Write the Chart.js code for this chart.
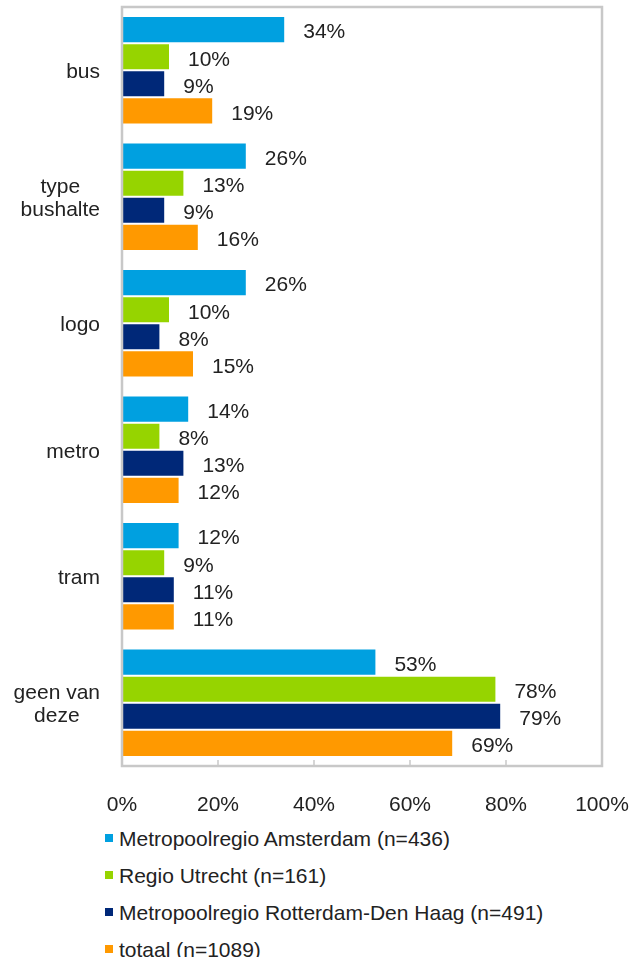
<!DOCTYPE html>
<html>
<head>
<meta charset="utf-8">
<script src="https://cdn.jsdelivr.net/npm/chart.js@4/dist/chart.umd.min.js"></script>
<style>
  body { margin: 0; background: #fff; }
  #wrap { position: relative; width: 632px; height: 957px; }
  #box { position: absolute; left: 0; top: 0; width: 632px; height: 820px; }
  #legend { position: absolute; left: 105px; top: 820px; font: 21px "Liberation Sans", Arial, sans-serif; color: #222; }
  #legend div { line-height: 37px; height: 37px; white-space: nowrap; }
  #legend span.sw { display: inline-block; width: 8px; height: 8px; margin-right: 6px; vertical-align: middle; position: relative; top: -2px; }
</style>
</head>
<body>
<div id="wrap">
  <div id="box"><canvas id="chart"></canvas></div>
  <div id="legend"></div>
</div>
<script>
(() => {
  // categorieën (meerdere regels per label)
  const categories = [['bus'], ['type', 'bushalte'], ['logo'], ['metro'], ['tram'], ['geen van', 'deze']];

  const seriesNames = [
    'Metropoolregio Amsterdam (n=436)',
    'Regio Utrecht (n=161)',
    'Metropoolregio Rotterdam-Den Haag (n=491)',
    'totaal (n=1089)'
  ];

  const amsterdam = [34, 26, 26, 14, 12, 53];
  const utrecht = [10, 13, 10, 8, 9, 78];
  const rotterdam = [9, 9, 8, 13, 11, 79];
  const totaal = [19, 16, 15, 12, 11, 69];

  const xTicks = [0, 20, 40, 60, 80, 100];

  const colors = ['#00a0e0', '#96d400', '#002878', '#ff9900'];
  const fontFam = '"Liberation Sans", Arial, sans-serif';
  const fontSize = 21;
  const textColor = '#222';

  const seriesValues = [amsterdam, utrecht, rotterdam, totaal];

  const datasets = seriesNames.map((name, i) => ({
    label: name,
    data: seriesValues[i],
    backgroundColor: colors[i],
    borderColor: 'rgba(255,255,255,0.5)',
    borderWidth: 1,
    borderSkipped: 'start',
    categoryPercentage: 0.856,
    barPercentage: 1
  }));

  // rand rond het plotgebied + kleine streepjes onderaan
  const plotBorder = {
    id: 'plotBorder',
    afterDatasetsDraw(chart) {
      const { ctx, chartArea: a, scales } = chart;
      ctx.save();
      ctx.strokeStyle = '#c8c8c8';
      ctx.lineWidth = 2.5;
      ctx.strokeRect(a.left, a.top, a.right - a.left, a.bottom - a.top);
      ctx.lineWidth = 1.5;
      scales.x.ticks.forEach(t => {
        const x = scales.x.getPixelForValue(t.value);
        if (x <= a.left + 1 || x >= a.right - 1) return;
        ctx.beginPath();
        ctx.moveTo(x, a.bottom);
        ctx.lineTo(x, a.bottom - 6);
        ctx.stroke();
      });
      ctx.restore();
    }
  };

  // waardelabels rechts van de balken
  const valueLabels = {
    id: 'valueLabels',
    afterDatasetsDraw(chart) {
      const { ctx } = chart;
      ctx.save();
      ctx.font = fontSize + 'px ' + fontFam;
      ctx.fillStyle = textColor;
      ctx.textAlign = 'left';
      ctx.textBaseline = 'middle';
      chart.data.datasets.forEach((ds, di) => {
        chart.getDatasetMeta(di).data.forEach((bar, i) => {
          ctx.fillText(ds.data[i] + '%', bar.x + 18, bar.y + 3);
        });
      });
      ctx.restore();
    }
  };

  // categorielabels: blok rechts uitgelijnd, regels onderling gecentreerd
  const catLabels = {
    id: 'catLabels',
    afterDraw(chart) {
      const { ctx, scales } = chart;
      const right = 100, lh = 23;
      ctx.save();
      ctx.font = fontSize + 'px ' + fontFam;
      ctx.fillStyle = textColor;
      ctx.textAlign = 'center';
      ctx.textBaseline = 'middle';
      chart.data.labels.forEach((lines, i) => {
        const y = scales.y.getPixelForValue(i);
        const w = Math.max(...lines.map(l => ctx.measureText(l).width));
        const cx = right - w / 2;
        const y0 = y - (lines.length - 1) * lh / 2 + 2;
        lines.forEach((l, k) => ctx.fillText(l, cx, y0 + k * lh));
      });
      ctx.restore();
    }
  };

  const ctx = document.getElementById('chart').getContext('2d');
  const chart = new Chart(ctx, {
    type: 'bar',
    data: { labels: categories, datasets: datasets },
    options: {
      indexAxis: 'y',
      responsive: true,
      maintainAspectRatio: false,
      animation: false,
      layout: { padding: { top: 7, right: 30, left: 0, bottom: 0 } },
      scales: {
        x: {
          min: 0,
          max: 100,
          afterBuildTicks: scale => { scale.ticks = xTicks.map(v => ({ value: v })); },
          afterFit: scale => {
            scale.height = 54;
            scale.paddingLeft = 0;
            scale.paddingRight = 0;
          },
          grid: { display: false },
          border: { display: false },
          ticks: {
            padding: 19,
            color: textColor,
            font: { family: fontFam, size: fontSize },
            callback: v => v + '%'
          }
        },
        y: {
          afterFit: scale => { scale.width = 122; },
          grid: { display: false },
          border: { display: false },
          ticks: { display: false }
        }
      },
      plugins: {
        legend: { display: false },
        tooltip: { enabled: false }
      }
    },
    plugins: [plotBorder, valueLabels, catLabels]
  });

  // legenda als lijst onder de grafiek
  const legend = document.getElementById('legend');
  chart.data.datasets.forEach(ds => {
    const row = document.createElement('div');
    const sw = document.createElement('span');
    sw.className = 'sw';
    sw.style.background = ds.backgroundColor;
    row.appendChild(sw);
    row.appendChild(document.createTextNode(ds.label));
    legend.appendChild(row);
  });
})();
</script>
</body>
</html>
